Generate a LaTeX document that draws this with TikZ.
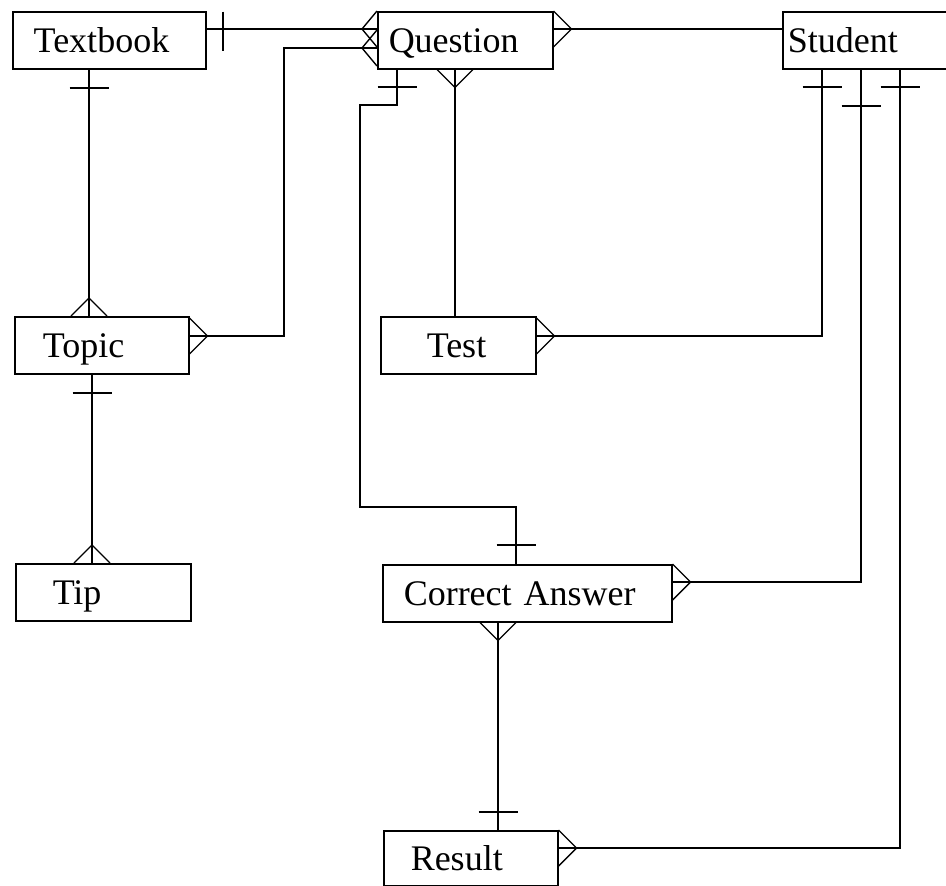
\documentclass[tikz,border=0pt]{standalone}
\usepackage{fontspec}
\setmainfont{Liberation Serif}
\usetikzlibrary{calc}
\tikzset{
  entity/.style={draw, line width=1.5pt, anchor=north west, align=left,
    inner ysep=0pt, minimum height=57pt, text height=24pt, text depth=0pt,
    font=\fontsize{36}{40}\selectfont},
  link/.style={line width=1.4pt},
  pics/crow/.style={code={\draw[link] (0,18) -- (#1,0) -- (0,-18);}},
  pics/crow/.default=18,
  pics/bar/.style={code={\draw[link] (0,-19.5) -- (0,19.5);}}
}

\begin{document}
\begin{tikzpicture}[x=1pt, y=-1pt]
      \useasboundingbox (0,0) rectangle (946,886);
      \clip (0,0) rectangle (946,886);
      % entities
      \node[entity, text width=151pt, inner xsep=21pt] (textbook) at (12,11) {Textbook};
      \node[entity, text width=153pt, inner xsep=11pt] (question) at (377,11) {Question};
      \node[entity, text width=190pt, inner xsep=5pt] (student) at (782,11) {Student};
      \node[entity, text width=118pt, inner xsep=28pt] (topic) at (14,316) {Topic};
      \node[entity, text width=63pt, inner xsep=46pt] (test) at (380,316) {Test};
      \node[entity, text width=101pt, inner xsep=37pt] (tip) at (15,563) {Tip};
      \node[entity, text width=247pt, inner xsep=21pt] (correct) at (382,564) {Correct Answer};
      \node[entity, text width=120pt, inner xsep=27pt, minimum height=55pt] (result) at (383,830) {Result};
      % textbook -- question
      \draw[link] (textbook.east |- 0,29) -- (question.west |- 0,29);
      \pic at (223,31) {bar};
      \pic[rotate=180] at (question.west |- 0,29) {crow=15};
      % topic -- question
      \coordinate (tq) at (284,336);
      \draw[link] (topic.east |- tq) -- (tq) |- (question.west |- 0,48);
      \pic at (topic.east |- tq) {crow};
      \pic[rotate=180] at (question.west |- 0,48) {crow=15};
      % textbook -- topic
      \draw[link] (textbook.south -| 89,0) -- (topic.north -| 89,0);
      \pic[rotate=90] at (89,88) {bar};
      \pic[rotate=90] at (topic.north -| 89,0) {crow};
      % topic -- tip
      \draw[link] (topic.south -| 92,0) -- (tip.north -| 92,0);
      \pic[rotate=90] at (92,393) {bar};
      \pic[rotate=90] at (tip.north -| 92,0) {crow};
      % question -- student
      \draw[link] (question.east |- 0,29) -- (student.west |- 0,29);
      \pic at (question.east |- 0,29) {crow};
      % question -- test
      \draw[link] (question.south -| 455,0) -- (test.north -| 455,0);
      \pic[rotate=-90] at (question.south -| 455,0) {crow};
      % question -- correct answer
      \coordinate (qc1) at (397,105);
      \coordinate (qc2) at (360,507);
      \draw[link] (question.south -| qc1) -- (qc1) -| (qc2) -| (correct.north -| 516,0);
      \pic[rotate=90] at (397,87) {bar};
      \pic[rotate=90] at (516,545) {bar};
      % test -- student
      \draw[link] (test.east |- 0,336) -| (student.south -| 822,0);
      \pic at (test.east |- 0,336) {crow};
      \pic[rotate=90] at (822,87) {bar};
      % correct answer -- student
      \draw[link] (correct.east |- 0,582) -| (student.south -| 861,0);
      \pic at (correct.east |- 0,582) {crow};
      \pic[rotate=90] at (861,106) {bar};
      % correct answer -- result
      \draw[link] (correct.south -| 498,0) -- (result.north -| 498,0);
      \pic[rotate=-90] at (correct.south -| 498,0) {crow};
      \pic[rotate=90] at (498,812) {bar};
      % result -- student
      \draw[link] (result.east |- 0,848) -| (student.south -| 900,0);
      \pic at (result.east |- 0,848) {crow};
      \pic[rotate=90] at (900,87) {bar};
\end{tikzpicture}
\end{document}
